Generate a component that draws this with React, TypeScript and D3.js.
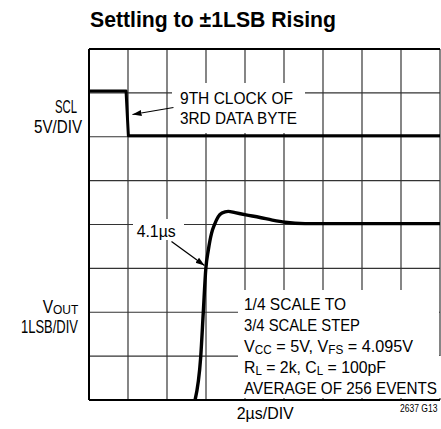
import React from "react";
import * as d3 from "d3";

// time in µs relative to the SCL falling edge, 2µs/DIV
const timeTicks = [-2, 0, 2, 4, 6, 8, 10, 12, 14, 16];
// VOUT in LSB relative to final value, 1LSB/DIV
const lsbTicks = [-4, -3, -2, -1, 0, 1, 2, 3, 4];

const sclTime = [-2, -0.1, 0.02, 16];
const sclVolts = [5.2, 5.2, 0.1, 0.1];

const voutTime = [3.44, 3.73, 3.86, 3.99, 4.12, 4.29, 4.43, 4.63, 4.82, 5.14, 5.49, 6.05, 6.77, 7.4, 8.05, 9.08, 10.5, 16];
const voutLsb = [-4.0, -3.01, -2.01, -1.01, -0.58, -0.19, -0.01, 0.18, 0.26, 0.3, 0.27, 0.22, 0.16, 0.1, 0.05, 0.02, 0.02, 0.02];

const FONT = "'Liberation Sans Narrow', 'Liberation Sans', Arial, sans-serif";

export default function App() {
  const W = 441, H = 429;
  const x = d3.scaleLinear().domain([-2, 16]).range([89, 440]);
  const yV = d3.scaleLinear().domain([-4, 4]).range([400, 49]);
  const yS = d3.scaleLinear().domain([-30, 10]).range([400, 49]);

  const sclLine = d3.line<number>().x((_, i) => x(sclTime[i])).y((v) => yS(v));
  const voutLine = d3
    .line<number>()
    .x((_, i) => x(voutTime[i]))
    .y((v) => yV(v))
    .curve(d3.curveMonotoneX);

  const txt = (s: any, px: number, py: number, len: number, opts: any = {}) => (
    <text
      x={px}
      y={py}
      textLength={len}
      lengthAdjust="spacingAndGlyphs"
      fontFamily={FONT}
      fontSize={opts.size ?? 16.5}
      fontWeight={opts.weight ?? "normal"}
      fill="#000"
    >
      {s}
    </text>
  );

  return (
    <svg width={W} height={H} style={{ position: "absolute", left: 0, top: 0, background: "#fff" }}>
      <defs>
        <marker id="ah" viewBox="0 0 10 10" refX="10" refY="5" markerWidth="9" markerHeight="9" markerUnits="userSpaceOnUse" orient="auto">
          <path d="M0,1.5 L10,5 L0,8.5 Z" fill="#000" />
        </marker>
        <clipPath id="plot">
          <rect x={89} y={49} width={351} height={351} />
        </clipPath>
      </defs>
      <rect x={0} y={0} width={W} height={H} fill="#fff" />

      {/* grid */}
      {timeTicks.map((t) => (
        <line key={"v" + t} x1={x(t)} x2={x(t)} y1={yV(4)} y2={yV(-4)} stroke="#444" strokeWidth={1.3} />
      ))}
      {lsbTicks.map((v) => (
        <line key={"h" + v} x1={x(-2)} x2={x(16)} y1={yV(v)} y2={yV(v)} stroke="#333" strokeWidth={1.2} />
      ))}
      {/* border */}
      <line x1={x(-2)} x2={x(16)} y1={yV(4)} y2={yV(4)} stroke="#000" strokeWidth={2} />
      <line x1={x(-2)} x2={x(16)} y1={yV(-4)} y2={yV(-4)} stroke="#000" strokeWidth={2} />
      <line x1={x(-2)} x2={x(-2)} y1={yV(4)} y2={yV(-4)} stroke="#000" strokeWidth={2} />

      {/* annotation backgrounds */}
      <rect x={172} y={83} width={133} height={50} fill="#fff" />
      <rect x={133} y={219} width={51} height={21} fill="#fff" />
      <rect x={238} y={290} width={201} height={108} fill="#fff" />
      <rect x={438} y={356} width={4} height={42} fill="#fff" />

      {/* traces */}
      <g clipPath="url(#plot)">
        <path d={sclLine(sclVolts) || ""} fill="none" stroke="#000" strokeWidth={3} strokeLinejoin="round" />
        <path d={voutLine(voutLsb) || ""} fill="none" stroke="#000" strokeWidth={3.4} strokeLinejoin="round" />
      </g>

      {/* arrows */}
      <line x1={173.5} y1={107.5} x2={132.5} y2={114.5} stroke="#000" strokeWidth={1.2} markerEnd="url(#ah)" />
      <line x1={171.5} y1={241.5} x2={204.5} y2={265.5} stroke="#000" strokeWidth={1.2} markerEnd="url(#ah)" />

      {/* title */}
      {txt("Settling to ±1LSB Rising", 90, 27, 246, { size: 22, weight: "bold" })}

      {/* left labels */}
      {txt("SCL", 55, 112.7, 22, { size: 17.5 })}
      {txt("5V/DIV", 34, 133.3, 48, { size: 17.5 })}
      <text x={42.7} y={312.7} fontFamily={FONT} fontSize={17.5} fill="#000" textLength={35.6} lengthAdjust="spacingAndGlyphs">
        V<tspan fontSize={13.5} dy={1}>OUT</tspan>
      </text>
      {txt("1LSB/DIV", 21, 333.3, 57, { size: 17.5 })}

      {/* annotations */}
      {txt("9TH CLOCK OF", 180, 104.3, 113, { size: 17 })}
      {txt("3RD DATA BYTE", 180, 124.3, 117, { size: 17 })}
      {txt("4.1µs", 136.7, 237, 39, { size: 17 })}

      {txt("1/4 SCALE TO", 244, 310, 102)}
      {txt("3/4 SCALE STEP", 244, 331, 116)}
      <text x={244} y={352} fontFamily={FONT} fontSize={16.5} fill="#000" textLength={169} lengthAdjust="spacingAndGlyphs">
        V<tspan fontSize={12} dy={2}>CC</tspan>
        <tspan dy={-2}> = 5V, V</tspan>
        <tspan fontSize={12} dy={2}>FS</tspan>
        <tspan dy={-2}> = 4.095V</tspan>
      </text>
      <text x={244} y={373} fontFamily={FONT} fontSize={16.5} fill="#000" textLength={142} lengthAdjust="spacingAndGlyphs">
        R<tspan fontSize={12} dy={2}>L</tspan>
        <tspan dy={-2}> = 2k, C</tspan>
        <tspan fontSize={12} dy={2}>L</tspan>
        <tspan dy={-2}> = 100pF</tspan>
      </text>
      {txt("AVERAGE OF 256 EVENTS", 244, 394, 193)}

      {/* bottom labels */}
      {txt("2µs/DIV", 236.7, 419, 57, { size: 17 })}
      {txt("2637 G13", 400, 411.5, 37.5, { size: 10 })}
    </svg>
  );
}
